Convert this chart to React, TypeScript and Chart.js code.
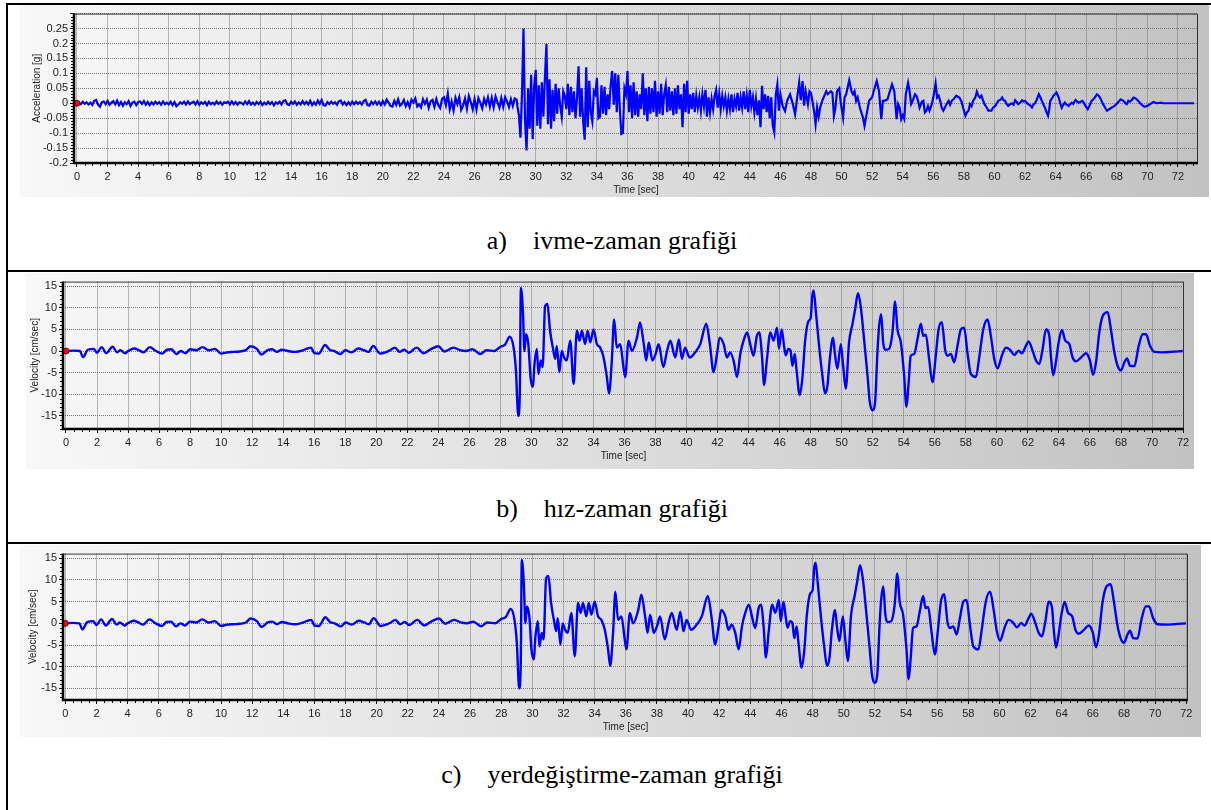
import React, { useEffect, useRef } from "react";
import { Chart, registerables } from "chart.js";

Chart.register(...registerables);

// ---------------- DATA ----------------
// Acceleration [g], 0 s .. 28.75 s, sampled every 0.125 s
const ACCEL_PRE_START = 0;
const ACCEL_PRE_STEP = 0.125;
const accelPre: number[] = [
  // 0-5 s
  0, 0.004, -0.003, 0.005, -0.002, 0.003, -0.004, 0.002, -0.006, 0.008,
  0.011, -0.005, -0.012, 0.004, 0.006, -0.003, 0.008, -0.005, 0.002, 0.007,
  -0.004, 0.009, -0.006, 0.004, -0.008, 0.003, -0.003, 0.007, -0.009, 0.002,
  0.005, -0.006, 0.004, 0.006, -0.002, 0.007, -0.005, 0.004, -0.006, 0.003,
  // 5-10 s
  -0.004, 0.005, -0.002, 0.004, -0.005, 0.006, -0.003, 0.002, -0.004, 0.005,
  -0.006, 0.004, -0.01, -0.004, 0.003, -0.002, 0.005, -0.004, 0.006, -0.003,
  0.002, 0.005, -0.004, 0.007, -0.005, 0.003, -0.002, 0.004, -0.006, 0.005,
  -0.003, 0.002, -0.004, 0.006, -0.002, 0.004, -0.005, 0.003, 0.001, 0.005,
  // 10-15 s
  -0.004, 0.006, -0.003, 0.004, -0.005, 0.003, 0.001, -0.004, 0.006, -0.003,
  0.007, -0.004, 0.002, -0.005, 0.004, -0.003, 0.005, -0.006, 0.002, -0.004,
  0.005, -0.003, 0.004, -0.007, 0.003, -0.002, 0.005, -0.004, 0.008, 0.01,
  -0.003, -0.006, 0.005, -0.002, 0.006, -0.005, 0.003, -0.004, 0.007, -0.003,
  // 15-20 s
  0.005, -0.004, 0.008, -0.006, 0.003, -0.005, 0.009, -0.002, 0.011, -0.007,
  -0.008, 0.004, -0.003, 0.005, -0.002, 0.003, -0.005, 0.007, 0.009, -0.004,
  0.004, -0.006, 0.003, -0.005, 0.006, -0.003, 0.005, -0.002, 0.004, -0.004,
  0.007, 0.011, -0.006, -0.008, 0.005, -0.003, 0.006, -0.004, 0.005, -0.006,
  // 20-24 s
  0.007, -0.004, 0.012, 0.002, -0.009, -0.011, 0.008, -0.006, 0.013, -0.008,
  -0.002, 0.011, -0.01, 0.004, -0.013, 0.012, 0.003, 0.016, -0.011, -0.004,
  -0.014, 0.013, -0.002, 0.012, -0.015, 0.006, 0.011, -0.012, 0.014, -0.006,
  -0.016, 0.015,
  // 24-28.75 s
  0.02, -0.006, 0.032, -0.02, 0.006, -0.024, 0.018, -0.003, 0.02, -0.022,
  -0.008, 0.016, -0.018, 0.024, 0.004, -0.02, 0.014, -0.021, 0.017, 0.002,
  -0.017, 0.015, -0.004, 0.02, -0.012, 0.018, -0.014, 0.022, 0.003, -0.015,
  0.017, -0.012, 0.02, 0.006, -0.013, 0.014, -0.009, 0.016, 0.012,
];

// Acceleration [g], 28.8 s .. 46.0 s, sampled every 0.1 s
const ACCEL_STRONG_START = 28.8;
const ACCEL_STRONG_STEP = 0.1;
const accelStrong: number[] = [
  -0.01, -0.04,
  -0.115, 0.03, 0.25, -0.06, -0.158, 0.05, -0.085, 0.095, -0.12, 0.06,
  0.112, -0.075, 0.06, -0.085, 0.07, -0.045, 0.085, 0.198, -0.07, 0.08,
  -0.085, 0.045, -0.06, 0.065, -0.035, 0.05, -0.01, -0.045, 0.04, 0.025,
  -0.02, 0.065, -0.04, 0.055, -0.03, 0.04, -0.05, 0.02, 0.124, -0.045,
  0.05, -0.06, -0.122, 0.12, -0.08, 0.075, -0.03, -0.06, 0.04, 0.03,
  0.085, -0.05, -0.045, 0.06, -0.035, 0.055, -0.04, 0.03, -0.02, 0.06,
  0.108, -0.005, 0.1, -0.03, 0.095, -0.02, -0.103, -0.1, 0.05, 0.03,
  0.108, -0.03, 0.06, -0.05, 0.07, -0.04, 0.04, -0.045, 0.03, -0.02,
  0.1, -0.04, 0.05, -0.06, 0.055, -0.035, 0.05, -0.03, 0.075, -0.045,
  0.04, -0.035, 0.065, -0.04, 0.03, 0.06, -0.03, 0.055, -0.025, 0.04,
  -0.04, 0.05, -0.035, 0.06, -0.02, 0.03, -0.08, 0.065, -0.03, 0.075,
  -0.035, 0.03, -0.02, 0.035, -0.03, 0.025, -0.015, 0.02, -0.025, 0.03,
  -0.01, 0.045, -0.045, 0.02, -0.03, 0.015, -0.02, 0.025, 0.045, -0.015,
  0.03, -0.02, 0.025, -0.01, 0.02, -0.025, 0.015, -0.02, 0.03, -0.03,
  0.015, -0.01, 0.035, -0.025, 0.02, -0.015, 0.04, -0.02, 0.025, -0.03,
  0.045, -0.01, 0.02, -0.03, 0.015, -0.04, 0.01, -0.08, 0.058, -0.02,
  0.03, -0.03, 0.025, -0.05, 0.02, -0.075, -0.098, 0.03, 0.063, -0.025,
  0.03,
];

// Acceleration [g] coda, [time s, value]
const accelCoda: [number, number][] = [
  [46.15, -0.01], [46.3, -0.026], [46.45, 0.01], [46.63, 0.03], [46.8, 0.0], [46.96, -0.037],
  [47.1, 0.02], [47.23, 0.07], [47.33, 0.01], [47.45, 0.074], [47.55, -0.008], [47.65, 0.04],
  [47.8, -0.003], [47.9, 0.04], [48.0, 0.035], [48.2, -0.025], [48.3, -0.07], [48.4, -0.015],
  [48.5, -0.045], [48.6, -0.015], [48.75, 0.01], [49.0, 0.04], [49.1, 0.03], [49.3, 0.04],
  [49.4, 0.035], [49.5, -0.042], [49.6, -0.015], [49.7, 0.04], [49.85, 0.05], [49.95, 0.0],
  [50.1, -0.048], [50.2, 0.02], [50.3, 0.03], [50.5, 0.077], [50.65, 0.04], [50.75, 0.03],
  [50.85, 0.04], [50.95, 0.008], [51.05, 0.02], [51.2, -0.015], [51.4, -0.048], [51.5, -0.076],
  [51.6, -0.048], [51.8, 0.008], [52.0, 0.02], [52.1, 0.04], [52.3, 0.074], [52.45, 0.04],
  [52.6, -0.053], [52.7, 0.008], [52.8, 0.008], [53.0, 0.013], [53.1, 0.03], [53.3, 0.063],
  [53.45, 0.04], [53.6, -0.053], [53.7, -0.003], [53.8, -0.015], [53.9, -0.053], [54.0, -0.04],
  [54.1, -0.053], [54.2, 0.03], [54.35, 0.069], [54.45, 0.04], [54.55, -0.003], [54.65, 0.008],
  [54.8, 0.03], [54.9, 0.025], [55.0, 0.008], [55.1, -0.015], [55.25, 0.005], [55.35, 0.008],
  [55.45, -0.031], [55.55, -0.025], [55.65, -0.01], [55.75, -0.025], [55.9, -0.003], [56.0, 0.019],
  [56.15, 0.066], [56.25, 0.019], [56.35, 0.025], [56.45, 0.008], [56.55, -0.015], [56.65, -0.025],
  [56.8, -0.01], [56.9, 0.0], [57.0, 0.008], [57.1, -0.005], [57.2, 0.008], [57.35, 0.015],
  [57.5, 0.025], [57.7, 0.019], [57.85, 0.005], [57.95, -0.015], [58.1, -0.042], [58.2, -0.03],
  [58.3, -0.025], [58.4, -0.003], [58.5, -0.01], [58.6, 0.008], [58.75, 0.02], [58.85, 0.039],
  [58.95, 0.025], [59.05, 0.019], [59.15, 0.025], [59.25, 0.01], [59.35, -0.003], [59.5, -0.015],
  [59.6, -0.025], [59.8, -0.025], [59.9, -0.015], [60.05, -0.009], [60.15, 0.0], [60.25, 0.008],
  [60.4, 0.012], [60.5, 0.019], [60.6, 0.01], [60.7, 0.008], [60.8, -0.003], [60.9, -0.009],
  [61.0, -0.004], [61.15, 0.0], [61.25, -0.005], [61.35, 0.01], [61.45, 0.004], [61.55, -0.003],
  [61.7, 0.003], [61.8, 0.01], [61.9, 0.006], [62.0, 0.008], [62.1, 0.002], [62.2, -0.003],
  [62.35, -0.008], [62.45, -0.014], [62.55, -0.004], [62.65, 0.0], [62.75, 0.01], [62.9, 0.03],
  [63.0, 0.02], [63.1, 0.008], [63.2, -0.004], [63.3, -0.015], [63.4, -0.03], [63.5, -0.042],
  [63.58, -0.02], [63.65, 0.008], [63.75, 0.015], [63.85, 0.025], [64.05, 0.036], [64.15, 0.025],
  [64.2, 0.019], [64.3, 0.0], [64.4, -0.015], [64.5, -0.005], [64.6, 0.002], [64.7, -0.004],
  [64.85, -0.009], [64.95, -0.003], [65.05, 0.002], [65.15, -0.002], [65.3, 0.011], [65.4, 0.006],
  [65.5, 0.002], [65.6, 0.004], [65.75, 0.008], [65.85, 0.001], [65.95, -0.009], [66.1, -0.02],
  [66.2, -0.01], [66.35, 0.008], [66.5, 0.015], [66.7, 0.03], [66.8, 0.026], [66.9, 0.019],
  [67.0, 0.008], [67.1, -0.003], [67.2, -0.012], [67.35, -0.025], [67.5, -0.02], [67.65, -0.015],
  [67.75, -0.012], [67.85, -0.009], [68.0, -0.002], [68.1, 0.004], [68.25, 0.013], [68.35, 0.01],
  [68.45, 0.008], [68.55, 0.0], [68.65, -0.003], [68.75, 0.008], [68.85, 0.005], [69.0, 0.012],
  [69.1, 0.019], [69.2, 0.017], [69.3, 0.013], [69.45, 0.005], [69.6, -0.004], [69.8, -0.012],
  [70.0, -0.009], [70.2, -0.002], [70.4, 0.004], [70.6, 0.0], [70.9, 0.002], [71.0, 0.0],
  [73.05, 0.0],
];

// Velocity [cm/sec], [time s, value]
const velocitySamples: [number, number][] = [
  [0, 0], [0.5, 0.1], [0.9, 0], [1.1, -1.4], [1.4, 0.3], [1.8, 0.5], [2.0, -0.4], [2.3, 0.9],
  [2.6, -0.5], [3.0, 1.0], [3.3, -0.3], [3.5, 0.2], [3.8, -0.5], [4.0, 0], [4.4, 0.6], [4.7, 0.2],
  [5.0, -0.3], [5.4, 0.9], [5.8, 0], [6.2, -0.6], [6.5, 0.3], [6.8, 0.4], [7.1, -0.7], [7.4, 0],
  [7.7, -0.5], [8.0, 0.4], [8.4, 0.2], [8.8, 0.9], [9.2, 0.2], [9.6, 0.5], [10.0, -0.6], [10.4, -0.3],
  [10.8, -0.2], [11.2, -0.1], [11.6, 0.2], [11.9, 1.1], [12.3, 0.5], [12.6, -0.8], [13.0, 0.2],
  [13.3, 0.4], [13.6, -0.2], [13.9, 0.3], [14.3, 0], [14.7, -0.2], [15.1, 0], [15.5, 0.5], [15.8, 0.8],
  [16.0, -0.5], [16.3, -0.6], [16.7, 1.4], [17.0, 0.3], [17.3, 0], [17.7, -0.7], [18.0, 0.2],
  [18.4, -0.3], [18.85, 0.6], [19.2, 0.2], [19.5, -0.2], [19.8, 1.2], [20.25, -0.6], [20.6, -0.3],
  [20.9, 0.2], [21.2, 0.8], [21.5, -0.2], [21.8, 0.3], [22.1, -0.4], [22.6, 0.8], [23.05, -0.5],
  [23.5, 0.4], [24.0, 1.1], [24.4, -0.1], [24.98, 0.8], [25.4, 0.2], [25.8, 0], [26.2, 0.4],
  [26.7, -0.7], [27.1, 0.2], [27.6, 0], [28.0, 1.0], [28.3, 1.5], [28.6, 3.3], [28.85, 0.8],
  [29.0, -4.5], [29.15, -15], [29.25, -9.8], [29.32, 14.6], [29.45, 9.2], [29.55, 0], [29.65, 3.9],
  [29.8, 1.6], [29.95, -6.4], [30.1, -8.3], [30.18, -3.7], [30.35, 0.5], [30.45, -5.3], [30.6, -2.2],
  [30.72, -3.7], [30.88, 10.4], [31.03, 10.9], [31.2, 4.7], [31.38, 0.8], [31.53, -1.8], [31.63, 1.2],
  [31.8, -4.9], [31.95, 0], [32.1, -1.5], [32.27, -2.2], [32.5, 2.4], [32.72, -7.6], [32.93, 4.7],
  [33.1, 2.4], [33.25, 4.7], [33.46, 1.6], [33.62, 4.7], [33.79, 2.0], [34.0, 5.0], [34.22, 1.6],
  [34.43, 0.8], [34.65, -1.5], [34.86, -6.0], [35.0, -9.8], [35.18, -2.2], [35.33, 7.3], [35.5, 0.8],
  [35.72, 1.6], [35.93, -3.7], [36.04, -6.0], [36.26, 2.4], [36.47, 0], [36.8, 3.1], [37.0, 6.6],
  [37.24, 1.6], [37.4, -2.2], [37.56, 2.0], [37.8, -2.2], [38.0, -0.7], [38.2, 1.6], [38.5, -3.7],
  [38.74, 0], [38.95, 2.4], [39.27, -1.5], [39.5, 2.7], [39.7, -1.8], [39.9, 0.8], [40.2, -1.5],
  [40.55, -0.3], [40.88, 1.6], [41.27, 6.3], [41.5, 1.6], [41.74, -4.9], [41.96, -0.7], [42.13, 3.1],
  [42.39, 1.6], [42.6, -1.5], [42.8, -0.3], [43.03, -2.2], [43.25, -6.0], [43.46, -0.7], [43.67, 2.4],
  [43.9, 4.3], [44.1, 1.6], [44.31, -1.1], [44.53, 3.5], [44.7, 4.3], [44.85, -0.7], [45.0, -7.9],
  [45.17, -2.2], [45.4, 4.3], [45.6, 2.4], [45.83, 5.4], [45.95, 0.5], [46.13, 5.0], [46.28, 1.2],
  [46.39, -1.0], [46.56, 0.5], [46.7, 0.1], [46.82, -3.4], [46.97, -0.7], [47.08, -4.1], [47.29, -10.2],
  [47.46, -6.4], [47.63, 2.0], [47.85, 6.9], [48.0, 7.7], [48.1, 12.7], [48.19, 14.0], [48.32, 9.6],
  [48.54, 1.2], [48.75, -5.6], [48.92, -9.8], [49.08, -8.0], [49.23, -1.8], [49.44, 3.1], [49.57, -1.0],
  [49.72, -4.1], [49.94, 1.6], [50.09, -3.4], [50.26, -8.7], [50.47, 2.0], [50.69, 6.2], [50.86, 9.6],
  [51.05, 13.4], [51.22, 10.4], [51.44, 2.7], [51.66, -5.6], [51.81, -11.8], [51.98, -13.7],
  [52.15, -11.8], [52.3, -0.3], [52.41, 5.8], [52.54, 8.5], [52.67, 2.0], [52.84, 0.3], [53.05, 0.5],
  [53.27, 4.3], [53.44, 11.5], [53.59, 5.0], [53.81, 2.0], [54.02, -5.6], [54.17, -12.9], [54.3, -7.9],
  [54.45, -1.1], [54.67, -0.7], [54.88, 2.7], [55.1, 6.3], [55.25, 3.5], [55.42, 3.8], [55.63, -1.8],
  [55.85, -7.2], [56.06, -1.1], [56.24, 5.0], [56.45, 6.7], [56.67, 0.1], [56.82, -1.1], [57.03, -0.7],
  [57.25, -2.6], [57.46, 1.2], [57.68, 5.0], [57.89, 5.4], [58.1, -0.3], [58.32, -5.3], [58.65, -6.0],
  [58.86, -1.5], [59.12, 5.0], [59.4, 7.3], [59.61, 3.5], [59.83, -1.8], [60.04, -4.0], [60.32, -1.1],
  [60.58, 0.8], [60.84, 0.3], [61.12, -0.9], [61.4, 0.1], [61.61, -0.5], [61.87, 1.2], [62.04, 2.2],
  [62.3, 0.1], [62.52, -2.2], [62.73, -3.0], [62.95, 0.5], [63.16, 5.0], [63.38, 3.5], [63.48, -1.1],
  [63.63, -5.6], [63.8, -2.6], [63.98, 2.0], [64.19, 4.9], [64.41, 2.4], [64.67, 1.6], [64.88, -1.5],
  [65.1, -2.4], [65.42, -1.5], [65.74, -0.5], [66.0, -2.2], [66.2, -5.5], [66.39, -2.6], [66.6, 4.3],
  [66.82, 8.1], [67.14, 9.0], [67.35, 5.0], [67.57, -0.3], [67.78, -3.4], [68.0, -4.5], [68.22, -2.6],
  [68.39, -1.7], [68.58, -3.4], [68.86, -3.5], [69.14, 1.2], [69.4, 3.9], [69.61, 3.9], [69.87, 1.2],
  [70.15, -0.2], [70.68, -0.3], [71.22, -0.2], [71.98, 0],
];

// Axis / label texts
const TIME_TITLE = "Time [sec]";
const ACCEL_TITLE = "Acceleration [g]";
const VEL_TITLE = "Velocity [cm/sec]";
const captionLabels = ["a)", "b)", "c)"];
const captionTexts = ["ivme-zaman grafiği", "hız-zaman grafiği", "yerdeğiştirme-zaman grafiği"];
const X_MAJOR_STEP = 2;

// ---------------- HELPERS ----------------
type Pt = { x: number; y: number };
const fromSteps = (start: number, step: number, vals: number[]): Pt[] =>
  vals.map((v, i) => ({ x: Math.round((start + i * step) * 1000) / 1000, y: v }));
const fromPairs = (pairs: [number, number][]): Pt[] => pairs.map(([x, y]) => ({ x, y }));

const accelPoints: Pt[] = [
  ...fromSteps(ACCEL_PRE_START, ACCEL_PRE_STEP, accelPre),
  ...fromSteps(ACCEL_STRONG_START, ACCEL_STRONG_STEP, accelStrong),
  ...fromPairs(accelCoda),
];
const velocityPoints: Pt[] = fromPairs(velocitySamples);

const SANS = "'Liberation Sans', Arial, Helvetica, sans-serif";
const SERIF = "'Liberation Serif', 'Times New Roman', serif";
const GRID_COLOR = "#777777";

type Panel = {
  left: number; top: number; width: number; height: number;
  area: { left: number; top: number; right: number; bottom: number };
  xMin: number; xMax: number; yMin: number; yMax: number; yStep: number; yMinorStep: number;
  yTitle: string; yTitleX: number; hideYLabelAbove?: number; decimals: number;
  points: Pt[]; lineWidth: number; smooth: boolean;
};

const decorPlugin = {
  id: "decor",
  beforeDraw(chart: any) {
    const { ctx, width, height } = chart;
    ctx.save();
    const g = ctx.createLinearGradient(0, 0, width, 0);
    g.addColorStop(0, "#f8f8f8");
    g.addColorStop(1, "#c2c2c2");
    ctx.fillStyle = g;
    ctx.fillRect(0, 0, width, height);
    ctx.restore();
  },
  afterDraw(chart: any, _args: any, opts: any) {
    const { ctx, chartArea: a, scales } = chart;
    const xs = scales.x;
    const ys = scales.y;
    ctx.save();
    ctx.strokeStyle = "#111";
    ctx.lineWidth = 1;
    ctx.beginPath();
    const xm = 0.5;
    for (let k = Math.ceil(xs.min / xm); k * xm <= xs.max; k++) {
      if (k % 4 === 0) continue;
      const px = Math.round(xs.getPixelForValue(k * xm)) + 0.5;
      ctx.moveTo(px, a.bottom);
      ctx.lineTo(px, a.bottom + 3);
    }
    const ym = opts.yMinorStep;
    const ratio = Math.round(opts.yStep / ym);
    for (let k = Math.ceil(ys.min / ym - 1e-6); k * ym <= ys.max + 1e-9; k++) {
      if (k % ratio === 0) continue;
      const py = Math.round(ys.getPixelForValue(k * ym)) + 0.5;
      ctx.moveTo(a.left - 3, py);
      ctx.lineTo(a.left, py);
    }
    ctx.stroke();
    ctx.strokeStyle = "#333";
    ctx.lineWidth = 1;
    ctx.beginPath();
    ctx.moveTo(a.left, a.top + 0.5);
    ctx.lineTo(a.right - 0.5, a.top + 0.5);
    ctx.lineTo(a.right - 0.5, a.bottom);
    ctx.stroke();
    ctx.strokeStyle = "#000";
    ctx.lineWidth = 2.5;
    ctx.beginPath();
    ctx.moveTo(a.left, a.top);
    ctx.lineTo(a.left, a.bottom);
    ctx.lineTo(a.right, a.bottom);
    ctx.stroke();
    ctx.fillStyle = "#222";
    ctx.font = `10px ${SANS}`;
    ctx.textAlign = "center";
    ctx.textBaseline = "middle";
    ctx.fillText(TIME_TITLE, (a.left + a.right) / 2, a.bottom + 27);
    ctx.translate(opts.yTitleX, (a.top + a.bottom) / 2);
    ctx.rotate(-Math.PI / 2);
    ctx.fillText(opts.yTitle, 0, 0);
    ctx.restore();
  },
};

function ChartPanel({ p }: { p: Panel }) {
  const ref = useRef<HTMLCanvasElement | null>(null);
  useEffect(() => {
    if (!ref.current) return;
    const yAxisWidth = p.area.left - p.left;
    const xAxisHeight = p.top + p.height - p.area.bottom;
    const chart = new Chart(ref.current, {
      type: "line",
      data: {
        datasets: [
          {
            label: "start",
            data: [{ x: 0, y: 0 }],
            showLine: false,
            pointRadius: 3,
            pointBackgroundColor: "#ff0000",
            pointBorderColor: "#8a0000",
            pointBorderWidth: 1,
          },
          {
            label: "series",
            data: p.points,
            borderColor: "#0000ff",
            borderWidth: p.lineWidth,
            pointRadius: 0,
            tension: 0,
            cubicInterpolationMode: p.smooth ? "monotone" : "default",
            fill: false,
          },
        ],
      },
      options: {
        animation: false,
        responsive: false,
        devicePixelRatio: 1,
        events: [],
        layout: {
          padding: { top: p.area.top - p.top, right: p.left + p.width - p.area.right, left: 0, bottom: 0 },
        },
        plugins: {
          legend: { display: false },
          tooltip: { enabled: false },
          decor: { yTitle: p.yTitle, yTitleX: p.yTitleX - p.left, yMinorStep: p.yMinorStep, yStep: p.yStep },
        } as any,
        scales: {
          x: {
            type: "linear",
            min: p.xMin,
            max: p.xMax,
            afterFit: (s: any) => { s.height = xAxisHeight; },
            border: { display: false, dash: [1, 1] },
            grid: { color: GRID_COLOR, lineWidth: 1, drawTicks: true, tickLength: 4, tickColor: "#111" },
            ticks: {
              stepSize: X_MAJOR_STEP,
              includeBounds: false,
              autoSkip: false,
              maxRotation: 0,
              padding: 3,
              color: "#222",
              font: { family: SANS, size: 11 },
              callback: (v: any) => String(v),
            },
          },
          y: {
            type: "linear",
            min: p.yMin,
            max: p.yMax,
            afterFit: (s: any) => { s.width = yAxisWidth; },
            border: { display: false, dash: [1, 1] },
            grid: { color: GRID_COLOR, lineWidth: 1, drawTicks: true, tickLength: 4, tickColor: "#111" },
            ticks: {
              stepSize: p.yStep,
              includeBounds: false,
              autoSkip: false,
              padding: 2,
              color: "#222",
              font: { family: SANS, size: 11 },
              callback: (v: any) => {
                const n = Number(v);
                if (p.hideYLabelAbove !== undefined && n > p.hideYLabelAbove) return "";
                return String(Number(n.toFixed(p.decimals)));
              },
            },
          },
        },
      },
      plugins: [decorPlugin],
    } as any);
    return () => chart.destroy();
  }, [p]);
  return (
    <canvas
      ref={ref}
      width={p.width}
      height={p.height}
      style={{ position: "absolute", left: p.left, top: p.top, width: p.width, height: p.height }}
    />
  );
}

const panels: Panel[] = [
  {
    left: 20, top: 5, width: 1189, height: 192,
    area: { left: 74, top: 12, right: 1198, bottom: 163 },
    xMin: -0.196, xMax: 73.31, yMin: -0.2, yMax: 0.3, yStep: 0.05, yMinorStep: 0.01,
    yTitle: ACCEL_TITLE, yTitleX: 37, hideYLabelAbove: 0.27, decimals: 2,
    points: accelPoints, lineWidth: 2.2, smooth: false,
  },
  {
    left: 26, top: 273, width: 1168, height: 196,
    area: { left: 63, top: 280, right: 1184, bottom: 429 },
    xMin: -0.193, xMax: 72.06, yMin: -18.04, yMax: 16.07, yStep: 5, yMinorStep: 1,
    yTitle: VEL_TITLE, yTitleX: 35, decimals: 0,
    points: velocityPoints, lineWidth: 2.4, smooth: true,
  },
  {
    left: 20, top: 545, width: 1181, height: 192,
    area: { left: 63, top: 552, right: 1188, bottom: 700 },
    xMin: -0.15, xMax: 72.11, yMin: -17.67, yMax: 16.07, yStep: 5, yMinorStep: 1,
    yTitle: VEL_TITLE, yTitleX: 33, decimals: 0,
    points: velocityPoints, lineWidth: 2.4, smooth: true,
  },
];

const captionCenters = [241, 509, 775];

export default function App() {
  return (
    <div
      style={{
        position: "absolute", left: 0, top: 0, width: 1211, height: 810,
        background: "#fff", overflow: "hidden",
      }}
    >
      <div style={{ position: "absolute", left: 6, top: 3, width: 2, height: 807, background: "#000" }} />
      <div style={{ position: "absolute", left: 6, top: 3, width: 1205, height: 2, background: "#000" }} />
      <div style={{ position: "absolute", left: 6, top: 270, width: 1205, height: 2, background: "#000" }} />
      <div style={{ position: "absolute", left: 6, top: 542, width: 1205, height: 2, background: "#000" }} />

      {panels.map((p, i) => (
        <ChartPanel key={i} p={p} />
      ))}

      {captionCenters.map((cy, i) => (
        <div
          key={i}
          style={{
            position: "absolute", left: 6, width: 1212, top: cy - 16, height: 32,
            lineHeight: "32px", textAlign: "center", fontFamily: SERIF, fontSize: 26,
            color: "#000", whiteSpace: "nowrap",
          }}
        >
          <span>{captionLabels[i]}</span>
          <span style={{ display: "inline-block", width: 26 }} />
          <span>{captionTexts[i]}</span>
        </div>
      ))}
    </div>
  );
}
